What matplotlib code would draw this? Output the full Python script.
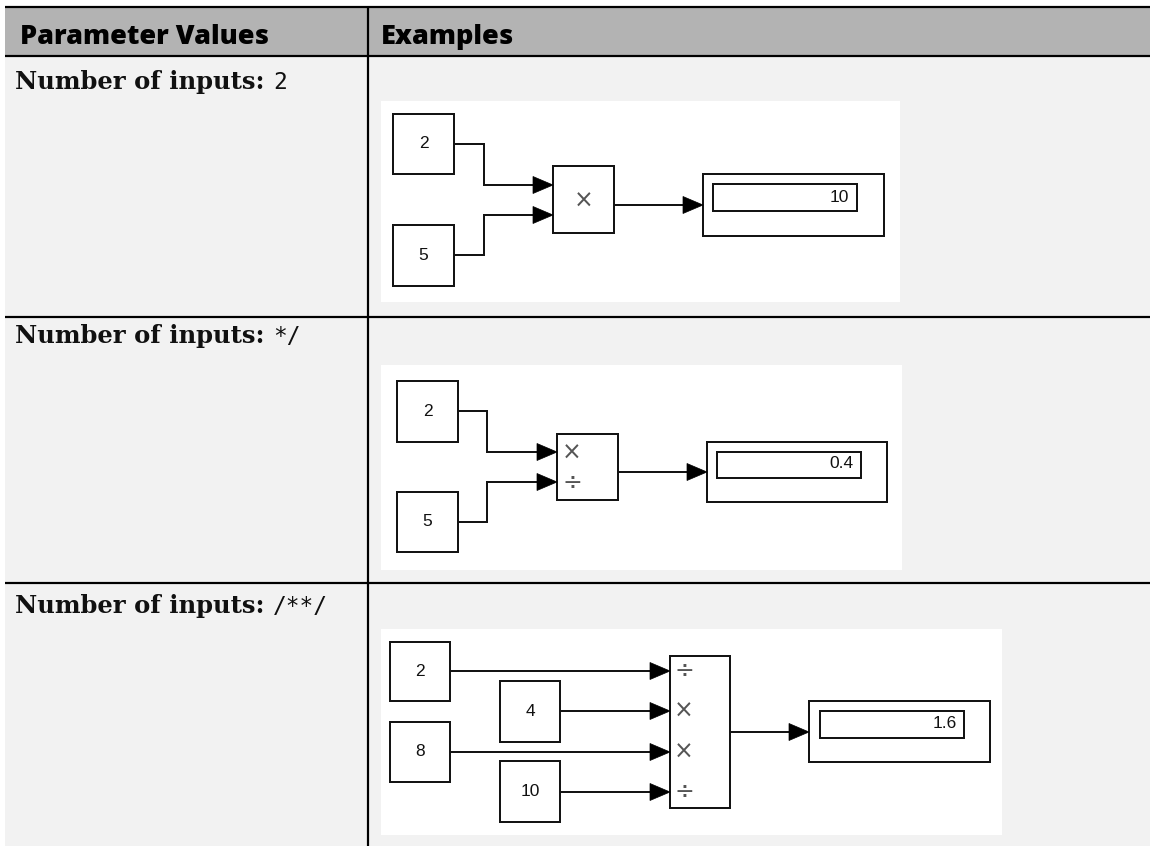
import matplotlib
matplotlib.use("Agg")
import matplotlib.pyplot as plt
from matplotlib.patches import Rectangle, Polygon

# ---------------- data ----------------
header_labels = ["Parameter Values", "Examples"]
row_prefix = "Number of inputs:"
row_params = ["2", "*/", "/**/"]

row1_inputs = ["2", "5"]
row1_signs = ["×"]
row1_result = "10"

row2_inputs = ["2", "5"]
row2_signs = ["×", "÷"]
row2_result = "0.4"

row3_inputs = ["2", "4", "8", "10"]
row3_signs = ["÷", "×", "×", "÷"]
row3_result = "1.6"

# ---------------- layout (pixel coordinates) ----------------
W, H = 1150, 846
TABLE_LEFT, TABLE_RIGHT = 5, 1150
TOP_LINE_Y = 7
HEADER_BOTTOM = 56
DIVIDER_X = 368
ROW_LINES = [317, 583]
ROW_TEXT_BASELINE = [89, 343, 613]
TEXT_X = 15
HEADER_BASELINE = 44
HEADER_X = [20, 381]

HEADER_BG = "#b3b3b3"
ROW_BG = "#f2f2f2"
INK = "#141414"

layouts = [
    dict(panel=(381, 101, 900, 302),
         consts=[(393, 114, 454, 174), (393, 225, 454, 286)],
         bend_x=484, ports=[185, 215],
         product=(553, 166, 614, 233),
         sign_pos=[(584, 201)],
         out_y=205,
         disp_outer=(703, 174, 884, 236), disp_inner=(713, 184, 857, 211),
         disp_text=(849, 197)),
    dict(panel=(381, 365, 902, 570),
         consts=[(397, 381, 458, 442), (397, 492, 458, 552)],
         bend_x=487, ports=[452, 482],
         product=(557, 434, 618, 500),
         sign_pos=[(572, 453), (572, 483)],
         out_y=472,
         disp_outer=(707, 442, 887, 502), disp_inner=(717, 452, 861, 478),
         disp_text=(854, 463)),
    dict(panel=(381, 629, 1002, 835),
         consts=[(390, 642, 450, 701), (500, 681, 560, 742),
                 (390, 722, 450, 782), (500, 761, 560, 822)],
         bend_x=None, ports=[671, 711, 752, 792],
         product=(670, 656, 730, 808),
         sign_pos=[(684, 671), (684, 711), (684, 752), (684, 792)],
         out_y=732,
         disp_outer=(809, 701, 990, 762), disp_inner=(820, 711, 964, 738),
         disp_text=(957, 724)),
]

rows = [
    (row1_inputs, row1_signs, row1_result),
    (row2_inputs, row2_signs, row2_result),
    (row3_inputs, row3_signs, row3_result),
]

PX = 0.72  # points per pixel at dpi 100

fig = plt.figure(figsize=(W / 100, H / 100), dpi=100)
ax = fig.add_axes([0, 0, 1, 1])
ax.set_xlim(0, W)
ax.set_ylim(H, 0)
ax.axis("off")
fig.patch.set_facecolor("white")


def rect(x0, y0, x1, y1, fc="none", ec=INK, lw=2.0, z=2):
    ax.add_patch(Rectangle((x0, y0), x1 - x0, y1 - y0, facecolor=fc,
                           edgecolor=ec, linewidth=lw * PX, zorder=z))


def arrow(tip_x, y, length=20, half=8.5):
    ax.add_patch(Polygon([(tip_x, y), (tip_x - length, y - half),
                          (tip_x - length, y + half)], closed=True,
                         facecolor="black", edgecolor="black",
                         linewidth=0.5, zorder=4))


def wire(xs, ys):
    ax.plot(xs, ys, color=INK, linewidth=2.0 * PX, solid_capstyle="butt",
            solid_joinstyle="miter", zorder=3)


# ---------------- table ----------------
rect(TABLE_LEFT, TOP_LINE_Y, TABLE_RIGHT, HEADER_BOTTOM, fc=HEADER_BG,
     ec="none", lw=0, z=0)
rect(TABLE_LEFT, HEADER_BOTTOM, TABLE_RIGHT, H, fc=ROW_BG, ec="none",
     lw=0, z=0)
for yy in [TOP_LINE_Y, HEADER_BOTTOM] + ROW_LINES:
    ax.plot([TABLE_LEFT, TABLE_RIGHT], [yy, yy], color="black",
            linewidth=2.2 * PX, solid_capstyle="butt", zorder=5)
ax.plot([DIVIDER_X, DIVIDER_X], [TOP_LINE_Y, H], color="black",
        linewidth=2.2 * PX, solid_capstyle="butt", zorder=5)

for lbl, hx in zip(header_labels, HEADER_X):
    ax.text(hx, HEADER_BASELINE, lbl, fontsize=19.5, fontweight=800,
            family="Open Sans", color="black", ha="left", va="baseline",
            zorder=6)

for base, param in zip(ROW_TEXT_BASELINE, row_params):
    t = ax.text(TEXT_X, base, row_prefix + " ", fontsize=17.5,
                fontweight="bold", family="DejaVu Serif", color="#111111",
                ha="left", va="baseline", zorder=6)
    fig.canvas.draw()
    bb = t.get_window_extent()
    x_end = ax.transData.inverted().transform((bb.x1, bb.y0))[0]
    ax.text(x_end, base, param, fontsize=16.5, family="DejaVu Sans Mono",
            color="#111111", ha="left", va="baseline", zorder=6)

# ---------------- block diagrams ----------------
for (inputs, signs, result), L in zip(rows, layouts):
    px0, py0, px1, py1 = L["panel"]
    rect(px0, py0, px1, py1, fc="white", ec="none", lw=0, z=1)

    prod = L["product"]
    for val, box, port_y in zip(inputs, L["consts"], L["ports"]):
        rect(*box, fc="white")
        cx = (box[0] + box[2]) / 2
        cy = (box[1] + box[3]) / 2
        ax.text(cx, cy, val, fontsize=12.5, family="Liberation Sans",
                color="#111111", ha="center", va="center", zorder=6)
        if L["bend_x"] is not None:
            wire([box[2], L["bend_x"], L["bend_x"], prod[0] - 2],
                 [cy, cy, port_y, port_y])
        else:
            wire([box[2], prod[0] - 2], [port_y, port_y])
        arrow(prod[0], port_y)

    rect(*prod, fc="white")
    for s, (sx, sy) in zip(signs, L["sign_pos"]):
        ax.text(sx, sy, s, fontsize=17, family="DejaVu Sans",
                color="#555555", ha="center", va="center", zorder=6)

    do = L["disp_outer"]
    di = L["disp_inner"]
    wire([prod[2], do[0] - 2], [L["out_y"], L["out_y"]])
    arrow(do[0], L["out_y"])
    rect(*do, fc="white")
    rect(*di, fc="white")
    tx, ty = L["disp_text"]
    ax.text(tx, ty, result, fontsize=12.5, family="Liberation Sans",
            color="#111111", ha="right", va="center", zorder=6)

fig.savefig("out.png", dpi=100, facecolor="white")
